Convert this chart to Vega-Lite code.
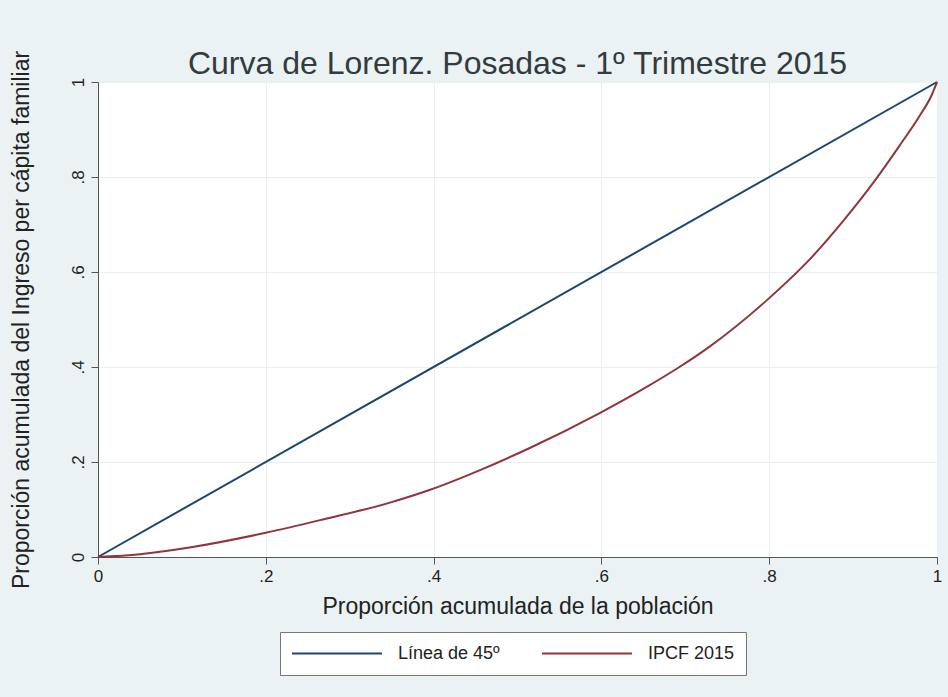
{
  "$schema": "https://vega.github.io/schema/vega-lite/v6.json",
  "width": 839,
  "height": 475,
  "autosize": {"type": "none"},
  "padding": {"left": 98, "top": 82, "right": 11, "bottom": 140},
  "background": "#eaf2f3",
  "config": {
    "font": "Liberation Sans",
    "view": {"fill": "white", "stroke": null}
  },
  "title": {
    "text": "Curva de Lorenz. Posadas - 1º Trimestre 2015",
    "fontSize": 32,
    "fontWeight": "normal",
    "color": "#333a40",
    "anchor": "middle",
    "frame": "group",
    "offset": -31
  },
  "data": {
    "values": [
      {"p": 0, "L": 0, "serie": "Línea de 45º"},
      {"p": 1, "L": 1, "serie": "Línea de 45º"},
      {"p": 0, "L": 0, "serie": "IPCF 2015"},
      {"p": 0.05, "L": 0.006, "serie": "IPCF 2015"},
      {"p": 0.109, "L": 0.02, "serie": "IPCF 2015"},
      {"p": 0.2, "L": 0.051, "serie": "IPCF 2015"},
      {"p": 0.268, "L": 0.079, "serie": "IPCF 2015"},
      {"p": 0.347, "L": 0.114, "serie": "IPCF 2015"},
      {"p": 0.395, "L": 0.141, "serie": "IPCF 2015"},
      {"p": 0.454, "L": 0.182, "serie": "IPCF 2015"},
      {"p": 0.514, "L": 0.229, "serie": "IPCF 2015"},
      {"p": 0.598, "L": 0.303, "serie": "IPCF 2015"},
      {"p": 0.653, "L": 0.357, "serie": "IPCF 2015"},
      {"p": 0.693, "L": 0.4, "serie": "IPCF 2015"},
      {"p": 0.729, "L": 0.443, "serie": "IPCF 2015"},
      {"p": 0.8, "L": 0.545, "serie": "IPCF 2015"},
      {"p": 0.848, "L": 0.626, "serie": "IPCF 2015"},
      {"p": 0.888, "L": 0.707, "serie": "IPCF 2015"},
      {"p": 0.927, "L": 0.795, "serie": "IPCF 2015"},
      {"p": 0.955, "L": 0.865, "serie": "IPCF 2015"},
      {"p": 0.979, "L": 0.928, "serie": "IPCF 2015"},
      {"p": 0.993, "L": 0.97, "serie": "IPCF 2015"},
      {"p": 1, "L": 1, "serie": "IPCF 2015"}
    ]
  },
  "mark": {"type": "line", "strokeWidth": 2, "interpolate": "monotone", "clip": false},
  "encoding": {
    "x": {
      "field": "p",
      "type": "quantitative",
      "scale": {"domain": [0, 1], "nice": false, "zero": false},
      "axis": {
        "values": [0, 0.2, 0.4, 0.6, 0.8, 1],
        "labelExpr": "datum.value == 0 ? '0' : datum.value == 1 ? '1' : replace(format(datum.value, '.1f'), '0.', '.')",
        "title": "Proporción acumulada de la población",
        "titleFontSize": 23,
        "titleFontWeight": "normal",
        "titleColor": "#222",
        "titlePadding": 11,
        "labelFontSize": 17,
        "labelColor": "#222",
        "labelPadding": 4,
        "tickSize": 7,
        "tickColor": "#555",
        "domainColor": "#555",
        "grid": true,
        "gridColor": "#e8eff1",
        "labelFlush": false
      }
    },
    "y": {
      "field": "L",
      "type": "quantitative",
      "scale": {"domain": [0, 1], "nice": false, "zero": false},
      "axis": {
        "values": [0, 0.2, 0.4, 0.6, 0.8, 1],
        "labelExpr": "datum.value == 0 ? '0' : datum.value == 1 ? '1' : replace(format(datum.value, '.1f'), '0.', '.')",
        "title": "Proporción acumulada del Ingreso per cápita familiar",
        "titleFontSize": 23,
        "titleFontWeight": "normal",
        "titleColor": "#222",
        "titlePadding": 36,
        "labelFontSize": 17,
        "labelColor": "#222",
        "labelAngle": -90,
        "labelAlign": "center",
        "labelBaseline": "bottom",
        "labelPadding": 4,
        "tickSize": 7,
        "tickColor": "#555",
        "domainColor": "#555",
        "grid": true,
        "gridColor": "#e8eff1",
        "labelFlush": false
      }
    },
    "color": {
      "field": "serie",
      "type": "nominal",
      "scale": {"domain": ["Línea de 45º", "IPCF 2015"], "range": ["#1a476f", "#90353b"]},
      "legend": {
        "title": null,
        "orient": "none",
        "direction": "horizontal",
        "legendX": 182,
        "legendY": 550,
        "fillColor": "white",
        "strokeColor": "#777",
        "padding": 11,
        "symbolType": "stroke",
        "symbolSize": 8100,
        "symbolStrokeWidth": 2,
        "clipHeight": 21,
        "labelFontSize": 18,
        "labelColor": "#222",
        "labelOffset": 15,
        "columnPadding": 41
      }
    },
    "order": {"field": "p", "type": "quantitative"}
  }
}
